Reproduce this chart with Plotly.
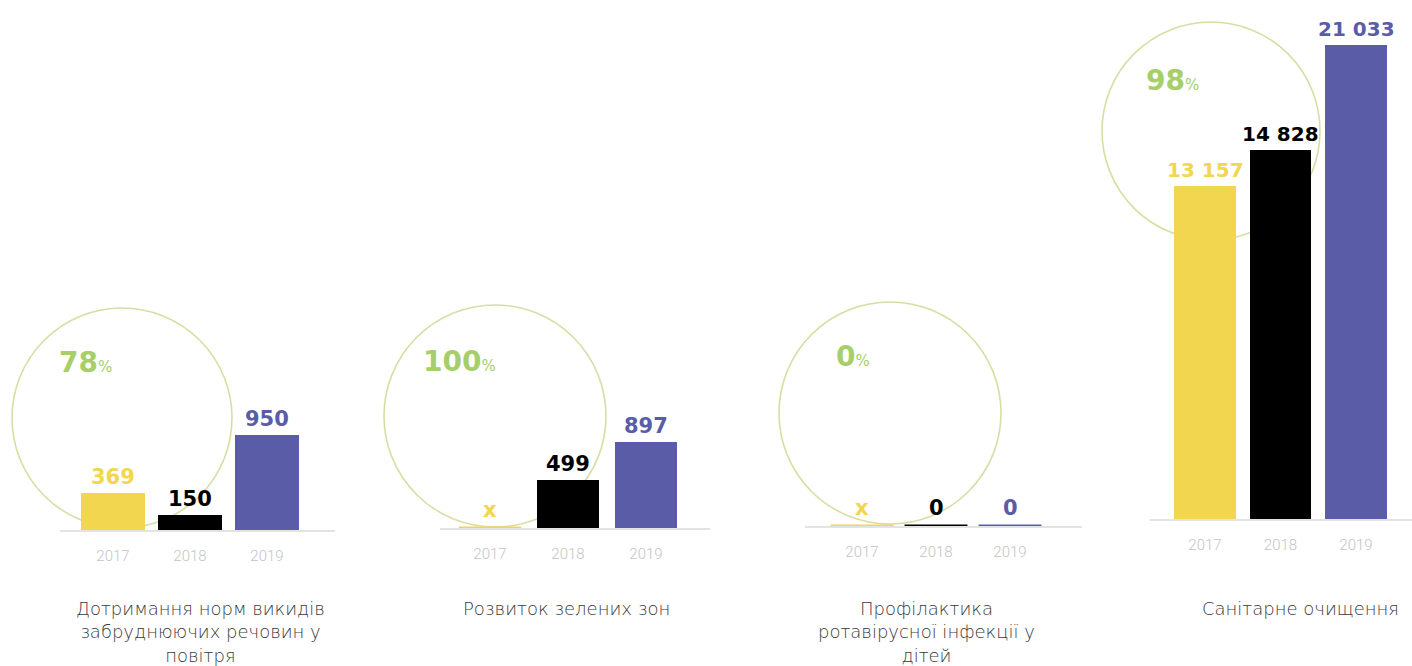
import plotly.graph_objects as go
import math

W, H = 1412, 666

years = ["2017", "2018", "2019"]
bar_colors = ["#f2d64f", "#000000", "#5a5ca8"]

titles = [
    "Дотримання норм викидів<br>забруднюючих речовин у<br>повітря",
    "Розвиток зелених зон",
    "Профілактика<br>ротавірусної інфекції у<br>дітей",
    "Санітарне очищення",
]
percents = ["78", "100", "0", "98"]

# values per indicator (None = no data, shown as "x")
emissions = [369, 150, 950]
green_zones = [None, 499, 897]
rotavirus = [None, 0, 0]
sanitation = [13157, 14828, 21033]
series = [emissions, green_zones, rotavirus, sanitation]

# panel layout in pixels: axis-line span, baseline, first-bar centre, bar pitch,
# circle (cx, cy, r), percent label anchor, title centre
panels = [
    dict(x0=60, x1=335, base=530, c0=113, pitch=77, bw=0.82, circ=(122, 418, 110),
         pct=(57, 362), tc=200),
    dict(x0=440, x1=710, base=528, c0=490, pitch=78, bw=0.80, circ=(495, 416, 111),
         pct=(421, 361), tc=566),
    dict(x0=805, x1=1082, base=526, c0=862, pitch=74, bw=0.85, circ=(890, 413, 111),
         pct=(834, 356), tc=926),
    dict(x0=1150, x1=1412, base=519, c0=1205, pitch=75.5, bw=0.82, circ=(1211, 131, 109),
         pct=(1144, 81), tc=1300),
]
TOP = 40
# y scales: px per unit for linear panels, log axis for the last one
lin_scale = [0.1, 0.096, 0.1]
log_floor = 3.64
log_px_per_decade = 694.5


def fx(px):
    return px / W


def fy(py):
    return 1 - py / H


def fmt(v):
    if v is None:
        return "x"
    return f"{v:,}".replace(",", " ")


fig = go.Figure()
layout = dict(
    width=W, height=H, margin=dict(l=0, r=0, t=0, b=0),
    paper_bgcolor="white", plot_bgcolor="rgba(0,0,0,0)",
    showlegend=False, bargap=0,
)
annotations = []
shapes = []

for i, (p, vals) in enumerate(zip(panels, series)):
    n = "" if i == 0 else str(i + 1)
    xa, ya = "x" + n, "y" + n
    xr = [(p["x0"] - p["c0"]) / p["pitch"], (p["x1"] - p["c0"]) / p["pitch"]]
    xs = list(range(len(years)))

    if i < 3:
        yr = [0, (p["base"] - TOP) / lin_scale[i]]
        ytype = "linear"
    else:
        yr = [log_floor, log_floor + (p["base"] - TOP) / log_px_per_decade]
        ytype = "log"

    # circle behind the bars
    cx, cy, r = p["circ"]
    shapes.append(dict(
        type="circle", xref="paper", yref="paper", layer="below",
        x0=fx(cx - r), x1=fx(cx + r), y0=fy(cy + r), y1=fy(cy - r),
        line=dict(color="#d7dea4", width=1.6), fillcolor="rgba(0,0,0,0)",
    ))

    bx = [x for x, v in zip(xs, vals) if v]
    bv = [v for v in vals if v]
    bc = [c for c, v in zip(bar_colors, vals) if v]
    if bv:
        fig.add_trace(go.Bar(
            x=bx, y=bv, width=p["bw"], marker=dict(color=bc, line=dict(width=0)),
            xaxis=xa, yaxis=ya, hoverinfo="skip",
        ))
    # empty / zero values: thin stroke on the baseline
    for x, v, c in zip(xs, vals, bar_colors):
        if not v:
            fig.add_trace(go.Scatter(
                x=[x - p["bw"] / 2, x + p["bw"] / 2], y=[0, 0], mode="lines",
                line=dict(color=c, width=3), xaxis=xa, yaxis=ya, hoverinfo="skip",
                cliponaxis=False,
            ))

    # value labels
    for x, v, c in zip(xs, vals, bar_colors):
        if i < 3:
            yv = v if v else 0
        else:
            yv = math.log10(v)
        annotations.append(dict(
            x=x, y=yv, xref=xa, yref=ya, text=fmt(v), showarrow=False,
            yanchor="bottom", yshift=2 if v else 4,
            font=dict(family="DejaVu Sans", size=21 if i < 3 else 20, color=c, weight="bold"),
        ))

    # percentage inside the circle
    px_, py_ = p["pct"]
    annotations.append(dict(
        x=fx(px_), y=fy(py_), xref="paper", yref="paper", xanchor="left", yanchor="middle",
        text=percents[i] + "<span style='font-size:15px;font-weight:normal'>%</span>",
        showarrow=False,
        font=dict(family="DejaVu Sans", size=28, color="#a6cf6a", weight="bold"),
    ))

    # indicator title
    annotations.append(dict(
        x=fx(p["tc"]), y=fy(596), xref="paper", yref="paper",
        xanchor="center", yanchor="top", align="center", text=titles[i], showarrow=False,
        font=dict(family="DejaVu Sans", size=18, color="#3a3a3a", weight=200),
    ))

    layout["xaxis" + n] = dict(
        domain=[fx(p["x0"]), fx(p["x1"])], range=xr, anchor=ya,
        tickmode="array", tickvals=xs, ticktext=years,
        showgrid=False, zeroline=False, showline=True, linecolor="#e3e3e3", linewidth=1.5,
        ticks="outside", ticklen=11, tickcolor="rgba(0,0,0,0)",
        tickfont=dict(family="Roboto", size=15, color="#c4c4c4", weight=300),
        fixedrange=True,
    )
    layout["yaxis" + n] = dict(
        domain=[fy(p["base"]), fy(TOP)], range=yr, type=ytype, anchor=xa,
        visible=False, fixedrange=True,
    )

layout["annotations"] = annotations
layout["shapes"] = shapes
fig.update_layout(**layout)
fig.write_html("out.html")
